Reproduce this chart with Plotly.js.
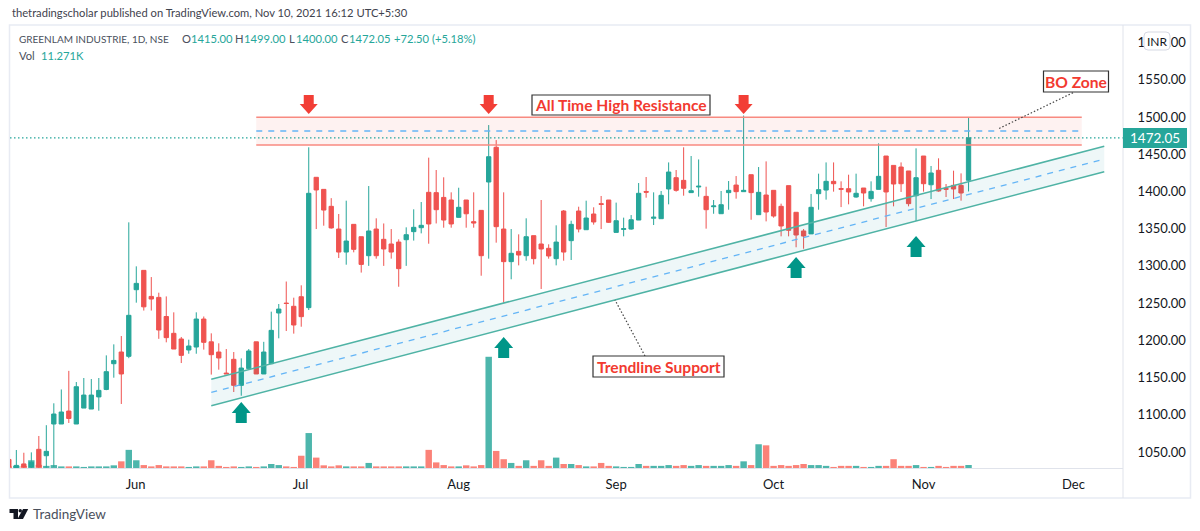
<!DOCTYPE html>
<html><head><meta charset="utf-8">
<script src="https://cdn.plot.ly/plotly-3.0.1.min.js"></script>
<style>html,body{margin:0;padding:0;background:#fff}#c{width:1200px;height:531px}</style></head>
<body><div id="c"></div>
<script>
const opens=[1040,1029,1034,1030,1053.6,1045,1087.6,1087.6,1105,1087.6,1109,1107.7,1124,1134,1168.6,1184.3,1178.5,1268,1294,1259,1257.7,1232,1209.4,1201.8,1187,1191,1228.6,1198,1184.3,1156,1174.5,1139.5,1162,1198,1154.8,1168.6,1236.7,1250,1245.7,1258.6,1243.9,1419,1402.8,1380,1349.5,1318.6,1355.8,1339.2,1313.7,1349.5,1335.7,1329.4,1332,1335.2,1346,1351.3,1398.8,1398.4,1392,1388.5,1365.2,1388.5,1359.4,1374.6,1412.7,1459.3,1349.5,1305.7,1319.5,1313.7,1340.6,1329.4,1323.6,1309.7,1373.7,1333.9,1373.7,1348.6,1369.7,1383.6,1388.5,1345,1349,1349.5,1361.6,1400,1364,1363.4,1403.3,1418.5,1414.9,1398.4,1406,1393.4,1379.5,1370.1,1398.4,1408.6,1399.7,1422.5,1368.8,1395.2,1401.5,1380,1407.8,1372,1346.9,1343,1397,1401.9,1413.6,1403.8,1403.7,1392.5,1404.6,1390.3,1402.8,1447.6,1435,1432.8,1427.5,1394.3,1447.6,1409,1428.4,1403.8,1408.2,1408.2,1415];
const highs=[1044,1052.7,1049,1049.5,1071.5,1086,1115.4,1134,1159,1144,1149.4,1148,1149.4,1179.8,1194.6,1205.8,1358.5,1299.4,1294,1285,1264,1259,1237.6,1204.5,1200.9,1237.6,1232,1209.4,1196,1188.3,1184.3,1175.8,1188.3,1198,1198,1238.5,1248.8,1279,1257.3,1273.9,1459.3,1419,1402.8,1391,1369.7,1387.6,1355.8,1339.2,1407.3,1363.9,1357,1349.5,1335.7,1351.8,1376,1385.8,1445.4,1428.8,1419,1398.8,1405,1388.5,1398.8,1374.6,1489.2,1469,1398.8,1349.5,1342.4,1363.9,1340.6,1388.5,1329,1354.5,1375,1360.7,1379.5,1387.6,1378.7,1393.9,1388.5,1385,1364.8,1368.3,1411.3,1419.4,1398.8,1400.6,1439,1428.8,1459.3,1447.6,1443,1406.4,1388.5,1400.6,1414,1420.7,1502,1422.5,1432.8,1440.4,1401.5,1383.6,1407.8,1372,1349.5,1396.6,1423.9,1439,1439,1413.6,1422.5,1423.9,1404.6,1413.6,1464.6,1447.6,1435,1439,1427.5,1457.9,1447.6,1434.2,1444.5,1410,1427.9,1424.3,1499];
const lows=[1028.5,1028.5,1028.5,1028.5,1028.5,1029,1030,1087.6,1089,1087.6,1109,1107.7,1105.5,1133,1149.8,1114.5,1176,1250.6,1240,1240,1202,1197.3,1188.3,1169.5,1182,1182,1187.5,1154,1160.6,1154.8,1130.6,1125.6,1162,1154.8,1154.8,1168.6,1202.7,1212.5,1209,1218.3,1240.7,1349.5,1354,1350,1310.6,1301.6,1318.2,1291,1300,1309.7,1300,1309.7,1272,1300,1334,1343.7,1329.8,1357,1351.3,1351.3,1365,1351.3,1351.3,1286.8,1309.7,1331.2,1250.6,1282,1300.7,1307,1302,1269,1309.7,1300.7,1307,1307.9,1345,1348.6,1355.4,1349.5,1357.6,1345,1339.7,1348.6,1361.6,1391.6,1354.9,1363.4,1382.7,1399.7,1394.3,1398.4,1393,1350,1370,1370,1375.5,1390.3,1399.7,1362,1368.8,1359.8,1364.8,1339.7,1339.7,1325,1323,1343,1375.5,1389,1399.7,1379,1382.7,1391.6,1380,1386.3,1402.8,1352.2,1380,1399.3,1380,1360.3,1399.7,1389.8,1399.7,1392.5,1389.8,1387.6,1400];
const closes=[1030,1032,1030,1036,1030,1050.9,1101,1103.7,1095,1137.7,1126.5,1126.5,1132.8,1157.9,1173,1154.8,1233.6,1276.5,1245,1255.5,1213.9,1203.6,1188.3,1179.8,1192.4,1228.6,1197.3,1180.7,1176.3,1155,1139.5,1162.8,1185.7,1154.8,1184.3,1213.4,1242,1249.5,1220.6,1231.8,1397.5,1402,1375,1351,1318.6,1333.4,1322.2,1302,1346.9,1313.7,1322.7,1318.6,1296.3,1341.9,1351.8,1354.5,1356.3,1375.5,1361.6,1356.3,1378.7,1370,1357.6,1313.7,1446.7,1352.7,1305.7,1316.9,1314.6,1339.2,1309.7,1322.7,1313.3,1332,1318.6,1355.8,1349.5,1364.3,1359,1382.6,1358.5,1360.7,1350,1362,1397.5,1399,1365.4,1394.8,1426.1,1401.5,1404.2,1401,1407,1375.5,1380.5,1382.2,1401.5,1399.7,1401.5,1398.4,1398.8,1372.4,1367,1353.6,1347.8,1341.5,1340.1,1378.7,1402.4,1413.6,1410.4,1403,1399.3,1397.5,1397.9,1400.1,1420.3,1399.3,1410,1410.4,1383.6,1418.5,1410.4,1424.8,1400.6,1403,1403.3,1397.9,1472.05];
const volumes=[6,8,8,29,12,8,11,6,6,6,4,6,6,6,10,25,68,29,11,6,11,6,6,6,4,6,6,29,8,4,6,4,6,4,6,15,11,6,4,46,131,39,10,6,10,6,6,6,19,6,6,6,6,6,6,6,68,21,11,6,6,10,6,11,417,64,33,19,8,29,8,29,8,39,15,15,11,6,6,19,8,6,4,4,15,8,8,8,11,8,11,8,11,8,8,8,11,8,25,11,89,85,8,11,8,11,15,11,11,8,4,8,8,8,4,4,8,8,33,8,8,11,4,4,8,4,8,8,11.271];
const sessions=opens.map((_,i)=>i);
const monthTicks=[16.9,38.9,60,81,102,122,142];
const monthLabels=['Jun','Jul','Aug','Sep','Oct','Nov','Dec'];
const priceTicks=[1050,1100,1150,1200,1250,1300,1350,1400,1450,1500,1550,1600];
const lastPrice=1472.05;
const resistance={from:33,to:143.1,top:1499.6,mid:1481.2,bottom:1462.3};
const support={from:27,to:146.1,upper:[1147.6,1460.6],mid:[1130,1443.5],lower:[1112.2,1426.5]};
const redArrows=[[40,1504],[64,1504],[98,1504]];
const greenArrows=[[31,1117],[66,1204.5],[105,1312],[121,1340]];

const G='#26a69a',R='#ef5350',VG='#4db6ac',VR='#fb8278',FONT='Lato,"Noto Sans",sans-serif',INK='#131722';
const px=x=>(x-10)/1113, py=y=>(468-y)/443;
const volColors=opens.map((o,i)=>closes[i]>=o?VG:VR);

const traces=[
 {type:'bar',x:sessions,y:volumes,xaxis:'x',yaxis:'y',marker:{color:volColors,line:{width:0}},width:0.86,hoverinfo:'skip'},
 {type:'candlestick',x:sessions,open:opens,high:highs,low:lows,close:closes,xaxis:'x',yaxis:'y2',
  increasing:{line:{color:G,width:1},fillcolor:G},decreasing:{line:{color:R,width:1},fillcolor:R},whiskerwidth:0,hoverinfo:'skip'}
];
const line=(x0,y0,x1,y1,color,width,dash)=>({type:'line',xref:'x',yref:'y2',x0,y0,x1,y1,line:{color,width,dash:dash||'solid'},layer:'above'});
const pline=(a,b,c,d,color,width,dash)=>({type:'line',xref:'paper',yref:'paper',x0:px(a),y0:py(b),x1:px(c),y1:py(d),line:{color,width,dash:dash||'solid'},layer:'above'});
const s=support,r=resistance;
const arrow=(p,path,color)=>({type:'path',xref:'x',yref:'y2',xsizemode:'pixel',ysizemode:'pixel',xanchor:p[0],yanchor:p[1],path,fillcolor:color,line:{width:0},layer:'above'});
const shapes=[
 {type:'rect',xref:'x',yref:'y2',x0:r.from,x1:r.to,y0:r.bottom,y1:r.top,fillcolor:'rgba(244,67,54,0.07)',line:{width:0},layer:'above'},
 line(r.from,r.top,r.to,r.top,'#f88a80',1.5),line(r.from,r.bottom,r.to,r.bottom,'#f88a80',1.5),
 line(r.from,r.mid,r.to,r.mid,'#64b5f6',1.3,'6px,6px'),
 {type:'path',xref:'x',yref:'y2',path:`M${s.from},${s.upper[0]} L${s.to},${s.upper[1]} L${s.to},${s.lower[1]} L${s.from},${s.lower[0]} Z`,fillcolor:'rgba(0,131,143,0.065)',line:{width:0},layer:'above'},
 line(s.from,s.upper[0],s.to,s.upper[1],'#4fb3a5',1.5),line(s.from,s.lower[0],s.to,s.lower[1],'#4fb3a5',1.5),
 line(s.from,s.mid[0],s.to,s.mid[1],'#64b5f6',1.3,'6px,6px'),
 {type:'line',xref:'paper',yref:'y2',x0:0,x1:1,y0:lastPrice,y1:lastPrice,line:{color:G,width:1.2,dash:'1.5px,2.5px'},layer:'above'},
 pline(1073,92.7,998,129,'#444',1.2,'1.5px,2px'),pline(645,356,615,300,'#444',1.2,'1.5px,2px'),
 ...redArrows.map(p=>arrow(p,'M0,0 L-9,10 L-5,10 L-5,19 L5,19 L5,10 L9,10 Z','#f23e36')),
 ...greenArrows.map(p=>arrow(p,'M0,0 L-9.5,-11 L-5.5,-11 L-5.5,-21 L5.5,-21 L5.5,-11 L9.5,-11 Z','#009688')),
 // pane frame
 {type:'rect',xref:'paper',yref:'paper',x0:px(9.5),x1:px(1190.5),y0:py(498),y1:py(25),line:{color:'#e8ebf3',width:1.5},layer:'below'},
 pline(1123,25,1123,498,'#e0e3eb',1),
 // last price tag
 {type:'rect',xref:'paper',yref:'paper',x0:px(1123),x1:px(1187),y0:py(148),y1:py(128),fillcolor:G,line:{width:0},layer:'above'},
 // INR pill
 {type:'path',xref:'paper',yref:'paper',path:`M${px(1148)},${py(32)} L${px(1166)},${py(32)} Q${px(1170)},${py(32)} ${px(1170)},${py(36)} L${px(1170)},${py(46)} Q${px(1170)},${py(50)} ${px(1166)},${py(50)} L${px(1148)},${py(50)} Q${px(1144)},${py(50)} ${px(1144)},${py(46)} L${px(1144)},${py(36)} Q${px(1144)},${py(32)} ${px(1148)},${py(32)} Z`,fillcolor:'#fff',line:{color:'#d6d9e3',width:1},layer:'above'},
 // logo
 {type:'path',xref:'paper',yref:'paper',path:`M${px(9.5)},${py(509)} L${px(18)},${py(509)} L${px(18)},${py(519)} L${px(13.5)},${py(519)} L${px(13.5)},${py(513)} L${px(9.5)},${py(513)} Z`,fillcolor:INK,line:{width:0},layer:'above'},
 {type:'path',xref:'paper',yref:'paper',path:`M${px(23)},${py(509)} L${px(28.2)},${py(509)} L${px(23)},${py(519)} L${px(17.5)},${py(519)} Z`,fillcolor:INK,line:{width:0},layer:'above'},
 {type:'circle',xref:'paper',yref:'paper',x0:px(18.5),x1:px(22),y0:py(512.5),y1:py(509),fillcolor:INK,line:{width:0},layer:'above'}
];
const txt=(x,y,text,color,size,extra)=>Object.assign({xref:'paper',yref:'paper',x:px(x),y:py(y),xanchor:'left',yanchor:'middle',text,showarrow:false,font:{family:FONT,size:size||12,color:color||INK}},extra||{});
const box=(cx,cy,w,h,text)=>[{type:'rect',xref:'paper',yref:'paper',x0:px(cx-w/2),x1:px(cx+w/2),y0:py(cy+h/2),y1:py(cy-h/2),fillcolor:'#fff',line:{color:'#333',width:1.2},layer:'above'},
  txt(cx,cy,'<b>'+text+'</b>','#f23a30',15.6,{xanchor:'center'})];
const callouts=[box(621,105,178,20,'All Time High Resistance'),box(658.5,366.5,131,21,'Trendline Support'),box(1076,81.5,65,21,'BO Zone')];
callouts.forEach(c=>shapes.push(c[0]));
const T='#26a69a',D='#4a4f5c',HS=11.2;
const annotations=[
 txt(10,13,'thetradingscholar published on TradingView.com, Nov 10, 2021 16:12 UTC+5:30','#3f434e',HS),
 txt(17,39,'GREENLAM INDUSTRIE, 1D, NSE',D,10),
 txt(180,39,'O',D,HS),txt(188.5,39,'1415.00',T,HS),
 txt(233,39,'H',D,HS),txt(241.5,39,'1499.00',T,HS),
 txt(287,39,'L',D,HS),txt(294,39,'1400.00',T,HS),
 txt(339,39,'C',D,HS),txt(347,39,'1472.05',T,HS),
 txt(392,39,'+72.50 (+5.18%)',T,HS),
 txt(17,55,'Vol',D,HS),txt(39,55,'11.271K',T,HS),
 txt(1155,138,'1472.05','#fff',13.5,{xanchor:'center'}),
 txt(1157,41,'INR',INK,12,{xanchor:'center'}),
 txt(31,514,'TradingView','#4a4f5c',13.5),
 ...callouts.map(c=>c[1])
];
const layout={
 width:1200,height:531,margin:{l:10,r:77,t:25,b:63},paper_bgcolor:'#fff',plot_bgcolor:'#fff',showlegend:false,
 font:{family:FONT,size:12,color:INK},boxgap:0.18,boxgroupgap:0.3,bargap:0.14,
 xaxis:{range:[0.156,148.6],tickmode:'array',tickvals:monthTicks,ticktext:monthLabels,showgrid:false,zeroline:false,showline:true,linecolor:'#e0e3eb',ticks:'outside',ticklen:4,tickcolor:'rgba(0,0,0,0)',tickfont:{family:FONT,size:13,color:INK},rangeslider:{visible:false},fixedrange:true},
 yaxis:{domain:[0,1],range:[0,1661],visible:false,fixedrange:true},
 yaxis2:{overlaying:'y',side:'right',anchor:'x',range:[1028.5,1623.6],tickmode:'array',tickvals:priceTicks,tickformat:'.2f',showgrid:false,zeroline:false,showline:false,ticks:'outside',ticklen:11,tickcolor:'rgba(0,0,0,0)',tickfont:{family:FONT,size:13,color:INK},fixedrange:true},
 shapes,annotations
};
Plotly.newPlot('c',traces,layout,{displayModeBar:false,staticPlot:true});
</script></body></html>
